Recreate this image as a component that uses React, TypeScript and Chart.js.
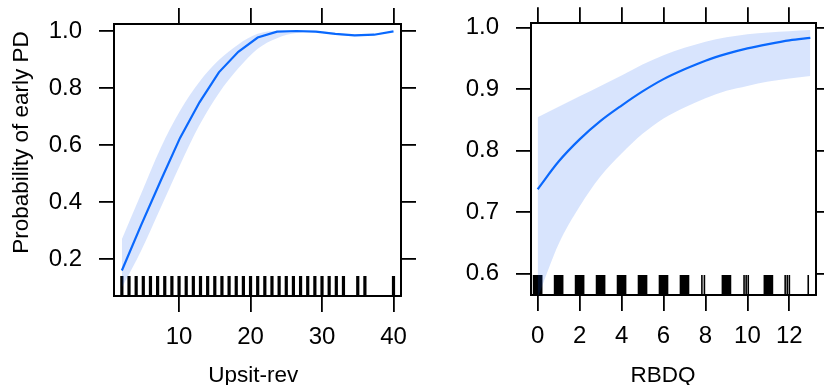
import React, { useEffect, useRef } from 'react';
import { Chart, registerables } from 'chart.js';

Chart.register(...registerables);
Chart.defaults.font.family = "'Liberation Sans', Arial, sans-serif";
Chart.defaults.font.size = 22;
Chart.defaults.color = '#000';

// ---- Left panel: Upsit-rev ----
const upsitX = [2, 4.71, 7.43, 10.14, 12.86, 15.57, 18.29, 21, 23.71, 26.43, 29.14, 31.86, 34.57, 37.29, 40];
const upsitFit = [0.16, 0.32, 0.475, 0.625, 0.75, 0.855, 0.927, 0.977, 0.998, 1.0, 0.998, 0.99, 0.985, 0.987, 0.999];
const upsitLower = [0.1, 0.23, 0.38, 0.53, 0.67, 0.782, 0.869, 0.938, 0.975, 0.993, 0.995, 0.987, 0.982, 0.984, 0.997];
const upsitUpper = [0.27, 0.43, 0.59, 0.72, 0.822, 0.898, 0.953, 0.99, 1.0, 1.0, 1.0, 0.993, 0.988, 0.99, 1.0];
const upsitRug = [2, 3, 4, 5, 6, 7, 8, 9, 10, 11, 12, 13, 14, 15, 16, 17, 18, 19, 20, 21, 22, 23, 24, 25, 26, 27, 28, 29, 30, 31, 32, 33, 35, 36, 40];
const upsitTicks = [10, 20, 30, 40];
const probTicksLeft = [0.2, 0.4, 0.6, 0.8, 1.0];

// ---- Right panel: RBDQ ----
const rbdqX = [0, 1, 2, 3, 4, 5, 6, 7, 8, 9, 10, 11, 12, 13];
const rbdqFit = [0.737, 0.782, 0.818, 0.848, 0.873, 0.896, 0.916, 0.932, 0.946, 0.957, 0.966, 0.973, 0.979, 0.983];
const rbdqLower = [0.56, 0.648, 0.709, 0.758, 0.795, 0.827, 0.852, 0.87, 0.885, 0.897, 0.905, 0.912, 0.917, 0.921];
const rbdqUpper = [0.854, 0.871, 0.888, 0.905, 0.922, 0.94, 0.955, 0.967, 0.977, 0.984, 0.989, 0.992, 0.994, 0.996];
const rbdqRugDense = [0, 1, 2, 3, 4, 5, 6, 7, 9, 11];
const rbdqRugSparse = [7.83, 7.95, 9.84, 9.94, 10.04, 11.8, 11.9, 12.0, 12.9];
const rbdqTicks = [0, 2, 4, 6, 8, 10, 12];
const probTicksRight = [0.6, 0.7, 0.8, 0.9, 1.0];

const LINE_COLOR = '#0a6cff';
const BAND_COLOR = 'rgba(15,88,242,0.16)';
const FONT = "22.5px 'Liberation Sans', Arial, sans-serif";
const TICK_FONT_SIZE = 24;

const pts = (xs: number[], ys: number[]) => xs.map((x, i) => ({ x, y: ys[i] }));

function axis(o: {
  axis: 'x' | 'y';
  position: string;
  min: number;
  max: number;
  ticks: number[];
  labels: boolean;
  size: number;
  tickLength: number;
  padding: number;
  fmt: (v: number) => string;
}) {
  return {
    type: 'linear',
    axis: o.axis,
    position: o.position,
    min: o.min,
    max: o.max,
    afterBuildTicks: (s: any) => {
      s.ticks = o.ticks.map((v) => ({ value: v }));
    },
    afterFit: (s: any) => {
      if (o.axis === 'x') s.height = o.size;
      else s.width = o.size;
      s.paddingTop = 0;
      s.paddingBottom = 0;
      s.paddingLeft = 0;
      s.paddingRight = 0;
    },
    grid: { drawOnChartArea: false, drawTicks: true, tickLength: o.tickLength, color: '#000', lineWidth: 1.8 },
    border: { display: true, color: '#000', width: 2 },
    ticks: {
      display: o.labels,
      padding: o.padding,
      color: '#000',
      font: { size: TICK_FONT_SIZE },
      maxRotation: 0,
      autoSkip: false,
      callback: (v: any) => o.fmt(Number(v)),
    },
  };
}

function rugPlugin(dense: number[], sparse: number[], halfWidth: number, lineW: number, len: number) {
  return {
    id: 'rug',
    beforeDatasetsDraw(chart: any) {
      const { ctx, chartArea, scales } = chart;
      const xs = scales.x;
      const y0 = chartArea.bottom;
      const y1 = chartArea.bottom - len;
      ctx.save();
      ctx.fillStyle = '#000';
      dense.forEach((v) => {
        const a = xs.getPixelForValue(v - halfWidth);
        const b = xs.getPixelForValue(v + halfWidth);
        ctx.fillRect(a, y1, b - a, y0 - y1);
      });
      ctx.strokeStyle = '#000';
      ctx.lineWidth = lineW;
      sparse.forEach((v) => {
        const p = xs.getPixelForValue(v);
        ctx.beginPath();
        ctx.moveTo(p, y0);
        ctx.lineTo(p, y1);
        ctx.stroke();
      });
      ctx.restore();
    },
  };
}

function titlePlugin(xTitle: string, xPos: number, yTitle?: string) {
  return {
    id: 'titles',
    afterDraw(chart: any) {
      const { ctx } = chart;
      ctx.save();
      ctx.font = FONT;
      ctx.fillStyle = '#000';
      ctx.textAlign = 'center';
      ctx.textBaseline = 'alphabetic';
      ctx.fillText(xTitle, xPos, 381.5);
      if (yTitle) {
        ctx.translate(27.5, 142.5);
        ctx.rotate(-Math.PI / 2);
        ctx.fillText(yTitle, 0, 0);
      }
      ctx.restore();
    },
  };
}

function bandDatasets(xs: number[], lo: number[], hi: number[], fit: number[], smoothLine: boolean) {
  const smooth: any = { pointRadius: 0, cubicInterpolationMode: 'monotone' };
  const straight: any = { pointRadius: 0, tension: 0 };
  return [
    { ...smooth, data: pts(xs, lo), borderColor: 'transparent', borderWidth: 0, fill: false },
    { ...smooth, data: pts(xs, hi), borderColor: 'transparent', borderWidth: 0, fill: '-1', backgroundColor: BAND_COLOR },
    { ...(smoothLine ? smooth : straight), data: pts(xs, fit), borderColor: LINE_COLOR, borderWidth: 2.2, fill: false },
  ];
}

function leftConfig(): any {
  const xMin = 0.9, xMax = 41.05, yMin = 0.0705, yMax = 1.0246;
  const fx = (v: number) => String(v);
  const fy = (v: number) => v.toFixed(1);
  return {
    type: 'line',
    data: { datasets: bandDatasets(upsitX, upsitLower, upsitUpper, upsitFit, false) },
    options: {
      animation: false,
      responsive: false,
      devicePixelRatio: 1,
      layout: { padding: 0 },
      plugins: { legend: { display: false }, tooltip: { enabled: false } },
      scales: {
        x: axis({ axis: 'x', position: 'bottom', min: xMin, max: xMax, ticks: upsitTicks, labels: true, size: 89, tickLength: 16, padding: 11, fmt: fx }),
        x2: axis({ axis: 'x', position: 'top', min: xMin, max: xMax, ticks: upsitTicks, labels: false, size: 24, tickLength: 16, padding: 0, fmt: fx }),
        y: axis({ axis: 'y', position: 'left', min: yMin, max: yMax, ticks: probTicksLeft, labels: true, size: 114, tickLength: 15, padding: 17, fmt: fy }),
        y2: axis({ axis: 'y', position: 'right', min: yMin, max: yMax, ticks: probTicksLeft, labels: false, size: 19, tickLength: 15, padding: 0, fmt: fy }),
      },
    },
    plugins: [rugPlugin([], upsitRug, 0, 3.2, 20), titlePlugin('Upsit-rev', 253.3, 'Probability of early PD')],
  };
}

function rightConfig(): any {
  const xMin = -0.317, xMax = 13.27, yMin = 0.565, yMax = 1.0068;
  const fx = (v: number) => String(v);
  const fy = (v: number) => v.toFixed(1);
  return {
    type: 'line',
    data: { datasets: bandDatasets(rbdqX, rbdqLower, rbdqUpper, rbdqFit, true) },
    options: {
      animation: false,
      responsive: false,
      devicePixelRatio: 1,
      layout: { padding: 0 },
      plugins: { legend: { display: false }, tooltip: { enabled: false } },
      scales: {
        x: axis({ axis: 'x', position: 'bottom', min: xMin, max: xMax, ticks: rbdqTicks, labels: true, size: 90, tickLength: 16, padding: 11, fmt: fx }),
        x2: axis({ axis: 'x', position: 'top', min: xMin, max: xMax, ticks: rbdqTicks, labels: false, size: 23.3, tickLength: 16, padding: 0, fmt: fx }),
        y: axis({ axis: 'y', position: 'left', min: yMin, max: yMax, ticks: probTicksRight, labels: true, size: 111, tickLength: 15, padding: 17, fmt: fy }),
        y2: axis({ axis: 'y', position: 'right', min: yMin, max: yMax, ticks: probTicksRight, labels: false, size: 8, tickLength: 15, padding: 0, fmt: fy }),
      },
    },
    plugins: [rugPlugin(rbdqRugDense, rbdqRugSparse, 0.23, 1.6, 20), titlePlugin('RBDQ', 243)],
  };
}

function Panel({ make, left, width }: { make: () => any; left: number; width: number }) {
  const ref = useRef<HTMLCanvasElement>(null);
  useEffect(() => {
    const chart = new Chart(ref.current as HTMLCanvasElement, make());
    return () => chart.destroy();
  }, []);
  return (
    <canvas
      ref={ref}
      width={width}
      height={385}
      style={{ position: 'absolute', left, top: 0, width, height: 385, display: 'block' }}
    />
  );
}

export default function App() {
  return (
    <div style={{ position: 'fixed', left: 0, top: 0, width: 824, height: 385, background: '#fff' }}>
      <Panel make={leftConfig} left={0} width={420} />
      <Panel make={rightConfig} left={420} width={404} />
    </div>
  );
}
